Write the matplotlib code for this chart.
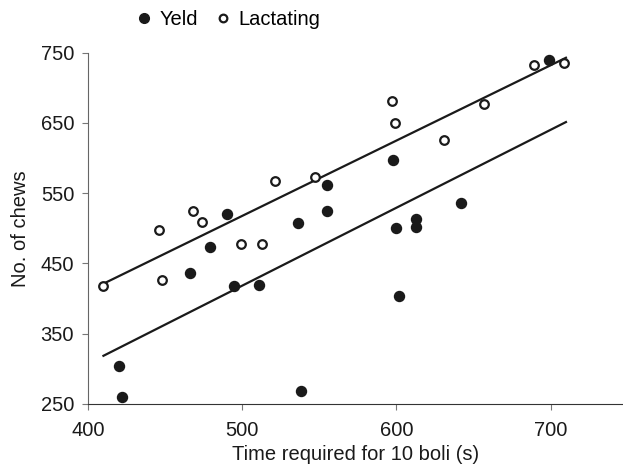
import matplotlib.pyplot as plt
import numpy as np
from matplotlib.lines import Line2D

plt.rcParams['font.family'] = ['Liberation Sans', 'DejaVu Sans']

# Yeld (filled) points
yeld_x = [420, 422, 466, 479, 490, 495, 511, 536, 538, 555, 555, 598, 600, 602, 613, 613, 642, 699]
yeld_y = [304, 260, 437, 473, 520, 418, 420, 507, 268, 562, 524, 597, 501, 403, 513, 502, 536, 739]

# Lactating (open) points
lact_x = [410, 446, 448, 468, 474, 499, 513, 521, 547, 597, 599, 631, 657, 689, 709]
lact_y = [418, 497, 427, 524, 509, 478, 478, 568, 573, 681, 650, 626, 677, 732, 735]

# fitted regression lines (slope, intercept) and x range
lact_fit = (1.072, -18.3)
yeld_fit = (1.109, -136.1)
fit_range = [410, 710]

ink = '#1a1a1a'

fig = plt.figure(figsize=(6.23, 4.71), dpi=100)
ax = fig.add_axes([0.1413, 0.1423, 0.8587, 0.7458])

ax.plot(yeld_x, yeld_y, 'o', ms=7.2, color=ink, mec=ink, clip_on=False, zorder=3)
ax.plot(lact_x, lact_y, 'o', ms=6.2, mfc='white', mec=ink, mew=1.6, clip_on=False, zorder=3)

xs = np.array(fit_range)
for slope, icpt in (lact_fit, yeld_fit):
    ax.plot(xs, slope * xs + icpt, color=ink, lw=1.6, zorder=2)

ax.set_xlim(400, 747)
ax.set_ylim(250, 750)
ax.set_xticks([400, 500, 600, 700])
ax.set_yticks([250, 350, 450, 550, 650, 750])

for s in ('top', 'right'):
    ax.spines[s].set_visible(False)
ax.spines['left'].set_color('#666666')
ax.spines['bottom'].set_color('#333333')
ax.tick_params(direction='out', length=4, color='#777777', labelsize=14.5, labelcolor=ink)
ax.tick_params(axis='y', pad=6)
ax.tick_params(axis='x', pad=8)
ax.set_xlabel('Time required for 10 boli (s)', fontsize=14.5, color=ink, labelpad=4)
ax.set_ylabel('No. of chews', fontsize=14.5, color=ink, labelpad=8)

handles = [
    Line2D([], [], ls='none', marker='o', ms=7, color=ink),
    Line2D([], [], ls='none', marker='o', ms=5.5, mfc='white', mec=ink, mew=1.6),
]
fig.legend(handles, ['Yeld', 'Lactating'], loc='center left', bbox_to_anchor=(0.205, 0.958),
           ncol=2, frameon=False, fontsize=14.5, handlelength=0.6, handletextpad=0.5,
           columnspacing=0.9, borderpad=0)

fig.savefig('out.png', dpi=100)
